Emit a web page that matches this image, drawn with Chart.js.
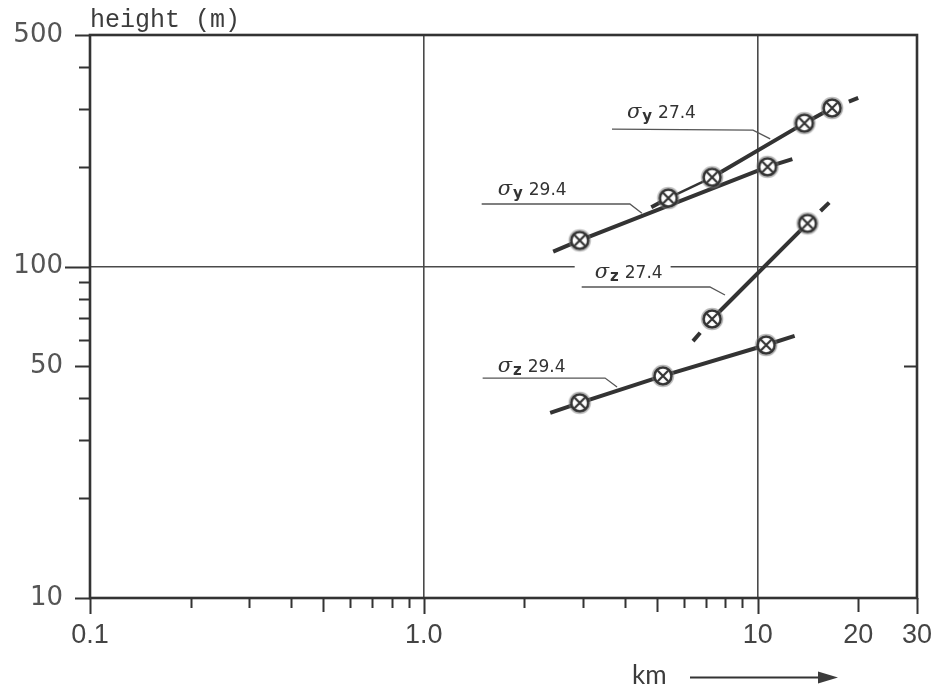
<!DOCTYPE html>
<html>
<head>
<meta charset="utf-8">
<script src="https://cdn.jsdelivr.net/npm/chart.js"></script>
<style>
  body { margin: 0; background: #fff; }
  #wrap { width: 941px; height: 692px; position: relative; }
</style>
</head>
<body>
<div id="wrap"><canvas id="sigmaChart"></canvas></div>
<script>
// distance (km) and spread (m) for each run; *Fit = ends of the fitted line
const sy274Km = [5.4, 7.3, 13.8, 16.7];
const sy274H = [161, 186, 271, 301];
const sy274FitKm = [4.8, 20.0];
const sy274FitH = [151, 323];

const sy294Km = [2.93, 10.7];
const sy294H = [120, 200];
const sy294FitKm = [2.44, 12.7];
const sy294FitH = [111, 211];

const sz274Km = [7.3, 14.1];
const sz274H = [69.5, 135];
const sz274FitKm = [6.4, 16.7];
const sz274FitH = [59.6, 159];

const sz294Km = [2.93, 5.2, 10.6];
const sz294H = [38.8, 46.8, 58.0];
const sz294FitKm = [2.39, 12.9];
const sz294FitH = [36.2, 61.8];

// axis ticks
const xTickValues = [0.1, 1, 10, 20, 30];
const xTickLabels = ['0.1', '1.0', '10', '20', '30'];
const xMinorTicks = [0.2, 0.3, 0.4, 0.5, 0.6, 0.7, 0.8, 0.9, 2, 3, 4, 5, 6, 7, 8, 9];
const yTickValues = [10, 50, 100, 500];
const yTickLabels = ['10', '50', '100', '500'];
const yMinorTicks = [20, 30, 40, 60, 70, 80, 90, 200, 300, 400];

// curve labels with their leader lines (leader points in km / m)
const curveNotes = [
  { sub: 'y', num: '27.4', leader: [[3.66, 260], [9.68, 258], [10.9, 243]], dx: 15, dy: -11 },
  { sub: 'y', num: '29.4', leader: [[1.49, 154.5], [4.14, 154.5], [4.5, 145]], dx: 16, dy: -9 },
  { sub: 'z', num: '27.4', leader: [[2.97, 86.8], [7.19, 86.8], [7.98, 82.1]], dx: 13, dy: -9, boxed: true },
  { sub: 'z', num: '29.4', leader: [[1.5, 46.1], [3.49, 46.1], [3.79, 43.3]], dx: 15, dy: -6 }
];

const INK = '#333';

function makeMarker() {
  const c = document.createElement('canvas');
  c.width = 26; c.height = 26;
  const g = c.getContext('2d');
  g.beginPath();
  g.arc(13, 13, 10.5, 0, Math.PI * 2);
  g.strokeStyle = 'rgba(130,130,130,0.55)';
  g.lineWidth = 1.5;
  g.stroke();
  g.beginPath();
  g.arc(13, 13, 8.5, 0, Math.PI * 2);
  g.fillStyle = '#fff';
  g.fill();
  g.strokeStyle = INK;
  g.lineWidth = 2.6;
  g.stroke();
  const d = 5.2;
  g.beginPath();
  g.moveTo(13 - d, 13 - d); g.lineTo(13 + d, 13 + d);
  g.moveTo(13 + d, 13 - d); g.lineTo(13 - d, 13 + d);
  g.lineWidth = 2.2;
  g.stroke();
  return c;
}
const marker = makeMarker();

function toPoints(xs, ys) {
  return xs.map((v, i) => ({ x: v, y: ys[i] }));
}

// thinPart: index of a line segment drawn lighter (-1 for none)
function makeSeries(km, h, fitKm, fitH, dashedEnds, thinPart) {
  const pts = toPoints(km, h);
  const linePts = [{ x: fitKm[0], y: fitH[0] }, ...pts, { x: fitKm[1], y: fitH[1] }];
  const last = linePts.length - 1;
  const line = {
    data: linePts,
    showLine: true,
    borderColor: INK,
    borderWidth: 4,
    pointRadius: 0,
    order: 2,
    segment: {
      borderWidth: ctx => (ctx.p0DataIndex === thinPart ? 2.4 : undefined),
      borderDash: ctx => {
        if (!dashedEnds) return undefined;
        if (ctx.p0DataIndex === 0) return [11, 100];
        if (ctx.p1DataIndex === last) return [0, 18, 12, 100];
        return undefined;
      }
    }
  };
  const dots = {
    data: pts,
    showLine: false,
    pointStyle: marker,
    pointRadius: 9,
    order: 1
  };
  return [line, dots];
}

function xTickLen(v) {
  if ([0.1, 1, 10, 30].includes(v)) return 16;
  if ([0.5, 5, 20].includes(v)) return 14;
  return 10;
}

function yTickLen(v) {
  if (v === 100) return 25;
  if ([10, 50, 500].includes(v)) return 15;
  return 11;
}

// frame, tick marks, captions and curve labels
const decorations = {
  id: 'decorations',
  beforeDatasetsDraw(chart) {
    const { ctx, chartArea: a, scales: { x, y } } = chart;
    ctx.save();
    ctx.strokeStyle = INK;
    ctx.lineWidth = 2;
    ctx.beginPath();
    [...xTickValues, ...xMinorTicks].forEach(v => {
      const px = Math.round(x.getPixelForValue(v)) + 0.5;
      ctx.moveTo(px, a.bottom);
      ctx.lineTo(px, a.bottom + xTickLen(v));
    });
    [...yTickValues, ...yMinorTicks].forEach(v => {
      const py = Math.round(y.getPixelForValue(v)) + 0.5;
      ctx.moveTo(a.left, py);
      ctx.lineTo(a.left - yTickLen(v), py);
    });
    const p50 = Math.round(y.getPixelForValue(50)) + 0.5;
    ctx.moveTo(a.right, p50);
    ctx.lineTo(a.right - 13, p50);
    ctx.stroke();

    ctx.lineWidth = 2.6;
    ctx.strokeRect(a.left, a.top, a.right - a.left, a.bottom - a.top);

    // axis captions
    ctx.fillStyle = '#3c3c3c';
    ctx.font = '25px "Liberation Mono", "DejaVu Sans Mono", monospace';
    ctx.textBaseline = 'alphabetic';
    ctx.fillText('height (m)', a.left, a.top - 8);

    ctx.font = '26px Lato, "DejaVu Sans", sans-serif';
    ctx.fillText('km', 632, 684);
    ctx.lineWidth = 2;
    ctx.beginPath();
    ctx.moveTo(690, 677.5);
    ctx.lineTo(822, 677.5);
    ctx.stroke();
    ctx.beginPath();
    ctx.moveTo(838, 677.5);
    ctx.lineTo(818, 671.5);
    ctx.lineTo(818, 683.5);
    ctx.closePath();
    ctx.fill();

    // curve labels
    curveNotes.forEach(n => {
      const pts = n.leader.map(p => [x.getPixelForValue(p[0]), y.getPixelForValue(p[1])]);
      const tx = pts[0][0] + n.dx;
      const ty = pts[0][1] + n.dy;
      ctx.font = 'italic 21px "DejaVu Serif", serif';
      const wSigma = ctx.measureText('σ').width;
      ctx.font = 'bold 15px "DejaVu Sans", sans-serif';
      const wSub = ctx.measureText(n.sub).width;
      ctx.font = '17px "DejaVu Sans", sans-serif';
      const wNum = ctx.measureText(n.num).width;
      if (n.boxed) {
        ctx.fillStyle = '#fff';
        ctx.fillRect(tx - 20, ty - 18, wSigma + wSub + wNum + 35, 26);
      }
      ctx.fillStyle = INK;
      ctx.font = 'italic 21px "DejaVu Serif", serif';
      ctx.fillText('σ', tx, ty);
      ctx.font = 'bold 15px "DejaVu Sans", sans-serif';
      ctx.fillText(n.sub, tx + wSigma + 1, ty + 3);
      ctx.font = '17px "DejaVu Sans", sans-serif';
      ctx.fillText(n.num, tx + wSigma + wSub + 7, ty);

      ctx.strokeStyle = '#555';
      ctx.lineWidth = 1.3;
      ctx.beginPath();
      ctx.moveTo(pts[0][0], pts[0][1]);
      pts.slice(1).forEach(p => ctx.lineTo(p[0], p[1]));
      ctx.stroke();
    });
    ctx.restore();
  }
};

const datasets = [
  ...makeSeries(sy274Km, sy274H, sy274FitKm, sy274FitH, true, 1),
  ...makeSeries(sy294Km, sy294H, sy294FitKm, sy294FitH, false, -1),
  ...makeSeries(sz274Km, sz274H, sz274FitKm, sz274FitH, true, -1),
  ...makeSeries(sz294Km, sz294H, sz294FitKm, sz294FitH, false, -1)
];

new Chart(document.getElementById('sigmaChart'), {
  type: 'scatter',
  data: { datasets: datasets },
  options: {
    responsive: true,
    maintainAspectRatio: false,
    animation: false,
    devicePixelRatio: 1,
    layout: { padding: { top: 35, right: 24, left: 0, bottom: 0 } },
    plugins: {
      legend: { display: false },
      tooltip: { enabled: false }
    },
    scales: {
      x: {
        type: 'logarithmic',
        min: 0.1,
        max: 30,
        afterBuildTicks: s => { s.ticks = xTickValues.map(v => ({ value: v })); },
        afterFit: s => { s.height = 94; s.paddingLeft = 0; s.paddingRight = 0; },
        border: { display: false },
        grid: {
          drawTicks: false,
          lineWidth: 1.6,
          color: c => (c.tick && (c.tick.value === 1 || c.tick.value === 10)) ? '#4a4a4a' : 'rgba(0,0,0,0)'
        },
        ticks: {
          autoSkip: false,
          maxRotation: 0,
          padding: 21,
          color: '#444',
          font: { family: '"Liberation Sans Narrow", "Liberation Sans", sans-serif', size: 27 },
          callback: (v, i) => xTickLabels[i]
        }
      },
      y: {
        type: 'logarithmic',
        min: 10,
        max: 500,
        afterBuildTicks: s => { s.ticks = yTickValues.map(v => ({ value: v })); },
        afterFit: s => { s.width = 90; s.paddingTop = 0; s.paddingBottom = 0; },
        border: { display: false },
        grid: {
          drawTicks: false,
          lineWidth: 1.6,
          color: c => (c.tick && c.tick.value === 100) ? '#4a4a4a' : 'rgba(0,0,0,0)'
        },
        ticks: {
          autoSkip: false,
          padding: 27,
          color: '#555',
          font: { family: '"DejaVu Sans ExtraLight", "DejaVu Sans", sans-serif', size: 26 },
          callback: (v, i) => yTickLabels[i]
        }
      }
    }
  },
  plugins: [decorations]
});
</script>
</body>
</html>
